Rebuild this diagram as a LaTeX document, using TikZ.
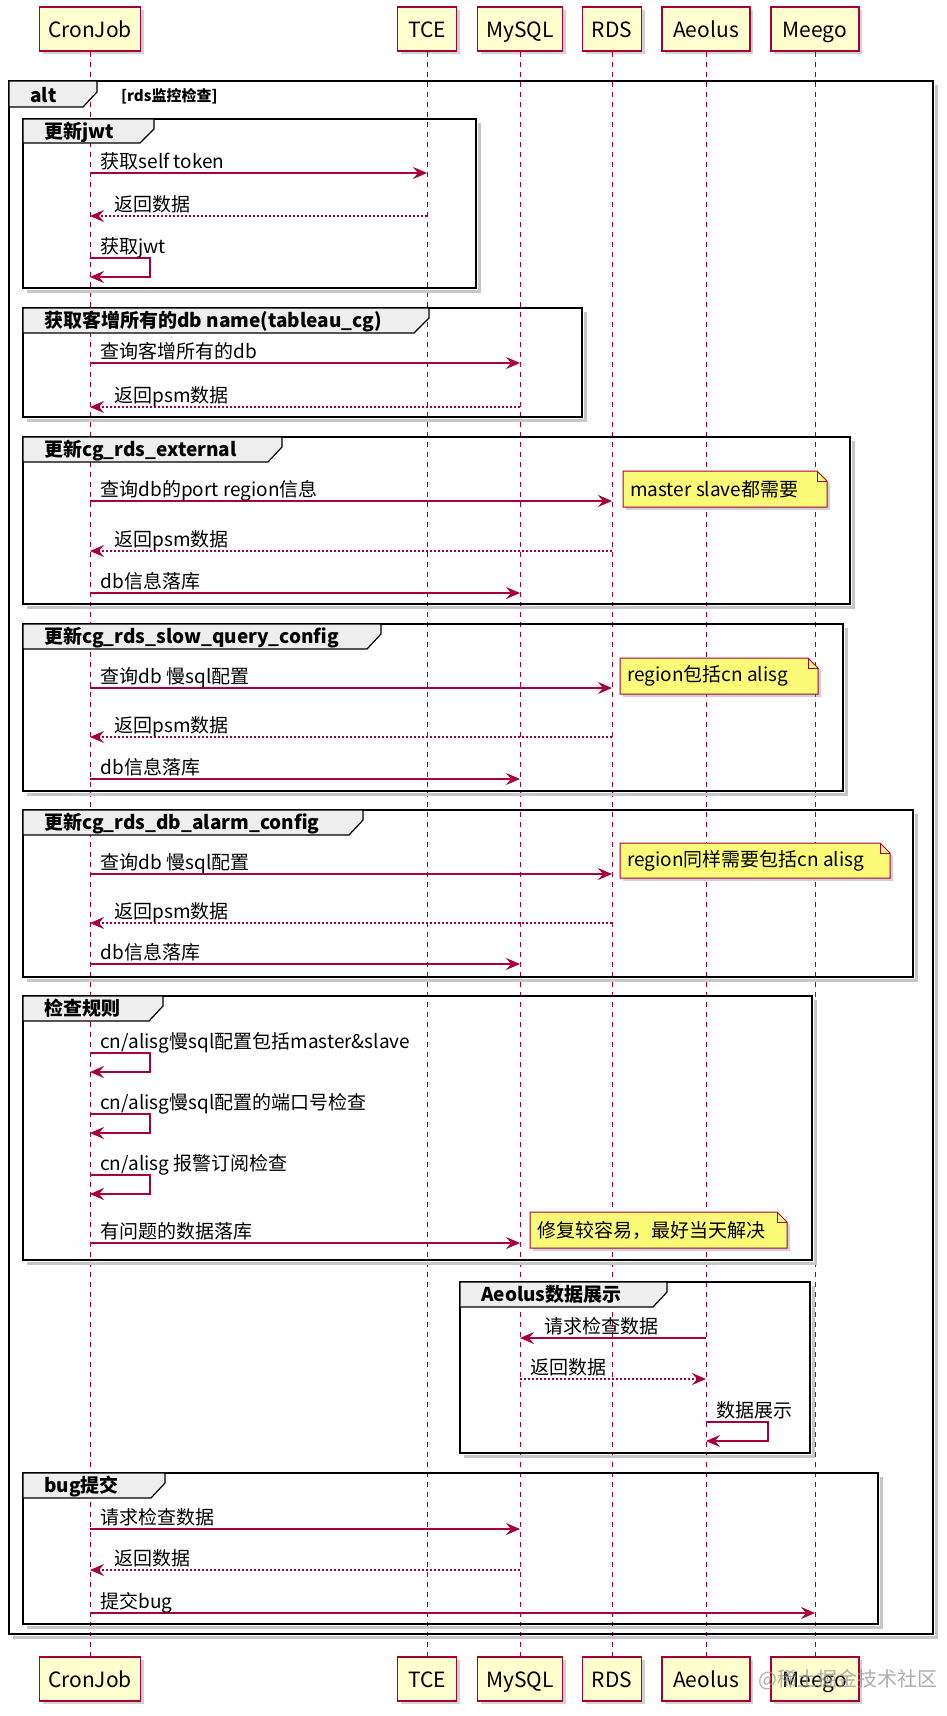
\documentclass[tikz,border=0pt]{standalone}
\usepackage{fontspec}
\setmainfont{Noto Sans CJK SC}
\usetikzlibrary{arrows.meta,shadows}

\definecolor{seqred}{HTML}{A80036}
\definecolor{seqpart}{HTML}{FEFECE}
\definecolor{seqnote}{HTML}{FBFB77}
\definecolor{seqtab}{HTML}{EEEEEE}

\tikzset{
  actor/.style={draw=seqred,fill=seqpart,line width=1.3pt,minimum width=#1,minimum height=44pt,
    inner xsep=3pt,inner ysep=0pt,text height=19pt,text depth=2pt,font=\fontsize{21}{23}\selectfont,
    drop shadow={shadow xshift=3pt,shadow yshift=-3pt,opacity=0.35}},
  lifeline/.style={seqred,line width=1pt,dash pattern=on 5pt off 5pt},
  call/.style={seqred,line width=1.3pt,-{Stealth[length=14pt,width=12pt,inset=5pt]}},
  reply/.style={call,dash pattern=on 2pt off 2pt},
  msgtext/.style={anchor=base west,inner sep=0pt,xshift=10pt,yshift=5pt,text=black,
    font=\fontsize{19}{21}\selectfont},
  backtext/.style={anchor=base west,inner sep=0pt,xshift=24pt,yshift=5pt,text=black,
    font=\fontsize{19}{21}\selectfont},
  grpbox/.style={draw=black,line width=2pt},
  grpshade/.style={black!22,line width=3pt},
  grptab/.style={draw=black,fill=seqtab,line width=1.2pt},
  grptext/.style={anchor=base west,inner sep=0pt,font=\bfseries\fontsize{19}{21}\selectfont},
  notebox/.style={draw=seqred,fill=seqnote,line width=1pt,
    drop shadow={shadow xshift=3pt,shadow yshift=-3pt,opacity=0.35}},
  notetext/.style={anchor=west,inner sep=0pt,font=\fontsize{19}{21}\selectfont},
}

\begin{document}
\begin{tikzpicture}[x=1pt,y=-1pt]
    \useasboundingbox (0,0) rectangle (946,1716);
    \fill [white] (0,0) rectangle (946,1716);

    % Participants, top and bottom
    \node [actor=101] (cronT) at (90,29) {CronJob};
    \node [actor=59] (tceT) at (427,29) {TCE};
    \node [actor=85] (mysqlT) at (520,29) {MySQL};
    \node [actor=59] (rdsT) at (612,29) {RDS};
    \node [actor=88] (aeolusT) at (706,29) {Aeolus};
    \node [actor=88] (meegoT) at (815,29) {Meego};
    \node [actor=101] (cronB) at (90,1679) {CronJob};
    \node [actor=59] (tceB) at (427,1679) {TCE};
    \node [actor=85] (mysqlB) at (520,1679) {MySQL};
    \node [actor=59] (rdsB) at (612,1679) {RDS};
    \node [actor=88] (aeolusB) at (706,1679) {Aeolus};
    \node [actor=88] (meegoB) at (815,1679) {Meego};

    % Lifelines
    \foreach \p in {cron,tce,mysql,rds,aeolus,meego}
        \draw [lifeline] (\p T.south) -- (\p B.north);

    % alt frame
    \draw [grpshade] (13,1637) -- (936,1637) -- (936,85);
    \draw [grpbox,line width=2.5pt] (9,81) rectangle (933,1634);
    \filldraw [grptab] (9,81) -- (97,81) -- (97,92) -- (83,107) -- (9,107) -- cycle;
    \node [grptext] (altT) at (30,102) {alt};
    \node [grptext,font=\bfseries\fontsize{15}{17}\selectfont] (altG) at (121,101) {[rds监控检查]};

    % Frame: 更新jwt
    \draw [grpshade] (27,291) -- (479,291) -- (479,123);
    \draw [grpbox] (23,119) rectangle (476,288);
    \filldraw [grptab] (23,119) -- (154,119) -- (154,129) -- (140,143) -- (23,143) -- cycle;
    \node [grptext] (g1) at (44,138) {更新jwt};
    \draw [call] (cronT |- 0,173) -- (tceT |- 0,173) node [msgtext,pos=0] (m1) {获取self token};
    \draw [reply] (tceT |- 0,216) -- (cronT |- 0,216) node [backtext,pos=1] (m2) {返回数据};
    \draw [call] (cronT |- 0,258) -- ++(60,0) -- ++(0,19) -- ++(-60,0);
    \node [msgtext] (m3) at (cronT |- 0,258) {获取jwt};

    % Frame: 获取客增所有的db name
    \draw [grpshade] (27,420) -- (585,420) -- (585,312);
    \draw [grpbox] (23,308) rectangle (582,417);
    \filldraw [grptab] (23,308) -- (429,308) -- (429,318) -- (414,333) -- (23,333) -- cycle;
    \node [grptext] (g2) at (44,327) {获取客增所有的db name(tableau\_cg)};
    \draw [call] (cronT |- 0,363) -- (mysqlT |- 0,363) node [msgtext,pos=0] (m4) {查询客增所有的db};
    \draw [reply] (mysqlT |- 0,407) -- (cronT |- 0,407) node [backtext,pos=1] (m5) {返回psm数据};

    % Frame: 更新cg_rds_external
    \draw [grpshade] (27,607) -- (853,607) -- (853,441);
    \draw [grpbox] (23,437) rectangle (850,604);
    \filldraw [grptab] (23,437) -- (282,437) -- (282,447) -- (268,462) -- (23,462) -- cycle;
    \node [grptext] (g3) at (44,456) {更新cg\_rds\_external};
    \draw [call] (cronT |- 0,501) -- (rdsT |- 0,501) node [msgtext,pos=0] (m6) {查询db的port region信息};
    \filldraw [notebox] (623,471) -- (817,471) -- (827,481) -- (827,507) -- (623,507) -- cycle;
    \draw [seqred,line width=1pt] (817,471) -- (817,481) -- (827,481);
    \node [notetext] (n1) at (630,489) {master slave都需要};
    \draw [reply] (rdsT |- 0,551) -- (cronT |- 0,551) node [backtext,pos=1] (m7) {返回psm数据};
    \draw [call] (cronT |- 0,593) -- (mysqlT |- 0,593) node [msgtext,pos=0] (m8) {db信息落库};

    % Frame: 更新cg_rds_slow_query_config
    \draw [grpshade] (27,794) -- (846,794) -- (846,628);
    \draw [grpbox] (23,624) rectangle (843,791);
    \filldraw [grptab] (23,624) -- (381,624) -- (381,634) -- (367,649) -- (23,649) -- cycle;
    \node [grptext] (g4) at (44,643) {更新cg\_rds\_slow\_query\_config};
    \draw [call] (cronT |- 0,688) -- (rdsT |- 0,688) node [msgtext,pos=0] (m9) {查询db 慢sql配置};
    \filldraw [notebox] (620,658) -- (808,658) -- (818,668) -- (818,694) -- (620,694) -- cycle;
    \draw [seqred,line width=1pt] (808,658) -- (808,668) -- (818,668);
    \node [notetext] (n2) at (627,676) {region包括cn alisg};
    \draw [reply] (rdsT |- 0,737) -- (cronT |- 0,737) node [backtext,pos=1] (m10) {返回psm数据};
    \draw [call] (cronT |- 0,779) -- (mysqlT |- 0,779) node [msgtext,pos=0] (m11) {db信息落库};

    % Frame: 更新cg_rds_db_alarm_config
    \draw [grpshade] (27,980) -- (916,980) -- (916,814);
    \draw [grpbox] (23,810) rectangle (913,977);
    \filldraw [grptab] (23,810) -- (363,810) -- (363,820) -- (349,835) -- (23,835) -- cycle;
    \node [grptext] (g5) at (44,829) {更新cg\_rds\_db\_alarm\_config};
    \draw [call] (cronT |- 0,874) -- (rdsT |- 0,874) node [msgtext,pos=0] (m12) {查询db 慢sql配置};
    \filldraw [notebox] (620,843) -- (880,843) -- (890,853) -- (890,878) -- (620,878) -- cycle;
    \draw [seqred,line width=1pt] (880,843) -- (880,853) -- (890,853);
    \node [notetext] (n3) at (627,861) {region同样需要包括cn alisg};
    \draw [reply] (rdsT |- 0,923) -- (cronT |- 0,923) node [backtext,pos=1] (m13) {返回psm数据};
    \draw [call] (cronT |- 0,964) -- (mysqlT |- 0,964) node [msgtext,pos=0] (m14) {db信息落库};

    % Frame: 检查规则
    \draw [grpshade] (27,1263) -- (815,1263) -- (815,1000);
    \draw [grpbox] (23,996) rectangle (812,1260);
    \filldraw [grptab] (23,996) -- (163,996) -- (163,1006) -- (149,1021) -- (23,1021) -- cycle;
    \node [grptext] (g6) at (44,1015) {检查规则};
    \draw [call] (cronT |- 0,1053) -- ++(60,0) -- ++(0,19) -- ++(-60,0);
    \node [msgtext] (m15) at (cronT |- 0,1053) {cn/alisg慢sql配置包括master\&slave};
    \draw [call] (cronT |- 0,1114) -- ++(60,0) -- ++(0,19) -- ++(-60,0);
    \node [msgtext] (m16) at (cronT |- 0,1114) {cn/alisg慢sql配置的端口号检查};
    \draw [call] (cronT |- 0,1175) -- ++(60,0) -- ++(0,19) -- ++(-60,0);
    \node [msgtext] (m17) at (cronT |- 0,1175) {cn/alisg 报警订阅检查};
    \draw [call] (cronT |- 0,1243) -- (mysqlT |- 0,1243) node [msgtext,pos=0] (m18) {有问题的数据落库};
    \filldraw [notebox] (530,1212) -- (777,1212) -- (787,1222) -- (787,1248) -- (530,1248) -- cycle;
    \draw [seqred,line width=1pt] (777,1212) -- (777,1222) -- (787,1222);
    \node [notetext] (n4) at (537,1230) {修复较容易，最好当天解决};

    % Frame: Aeolus数据展示
    \draw [grpshade] (464,1456) -- (813,1456) -- (813,1286);
    \draw [grpbox] (460,1282) rectangle (810,1453);
    \filldraw [grptab] (460,1282) -- (667,1282) -- (667,1292) -- (653,1307) -- (460,1307) -- cycle;
    \node [grptext] (g7) at (481,1301) {Aeolus数据展示};
    \draw [call] (aeolusT |- 0,1338) -- (mysqlT |- 0,1338) node [backtext,pos=1] (m19) {请求检查数据};
    \draw [reply] (mysqlT |- 0,1379) -- (aeolusT |- 0,1379) node [msgtext,pos=0] (m20) {返回数据};
    \draw [call] (aeolusT |- 0,1422) -- ++(62,0) -- ++(0,19) -- ++(-62,0);
    \node [msgtext] (m21) at (aeolusT |- 0,1422) {数据展示};

    % Frame: bug提交
    \draw [grpshade] (27,1627) -- (881,1627) -- (881,1477);
    \draw [grpbox] (23,1473) rectangle (878,1624);
    \filldraw [grptab] (23,1473) -- (165,1473) -- (165,1483) -- (151,1498) -- (23,1498) -- cycle;
    \node [grptext] (g8) at (44,1492) {bug提交};
    \draw [call] (cronT |- 0,1529) -- (mysqlT |- 0,1529) node [msgtext,pos=0] (m22) {请求检查数据};
    \draw [reply] (mysqlT |- 0,1570) -- (cronT |- 0,1570) node [backtext,pos=1] (m23) {返回数据};
    \draw [call] (cronT |- 0,1613) -- (meegoT |- 0,1613) node [msgtext,pos=0] (m24) {提交bug};

    % Watermark
    \node [anchor=west,inner sep=0pt,text=black!40,opacity=0.8,font=\fontsize{20}{22}\selectfont]
        (mark) at (758,1680) {@稀土掘金技术社区};
\end{tikzpicture}
\end{document}
